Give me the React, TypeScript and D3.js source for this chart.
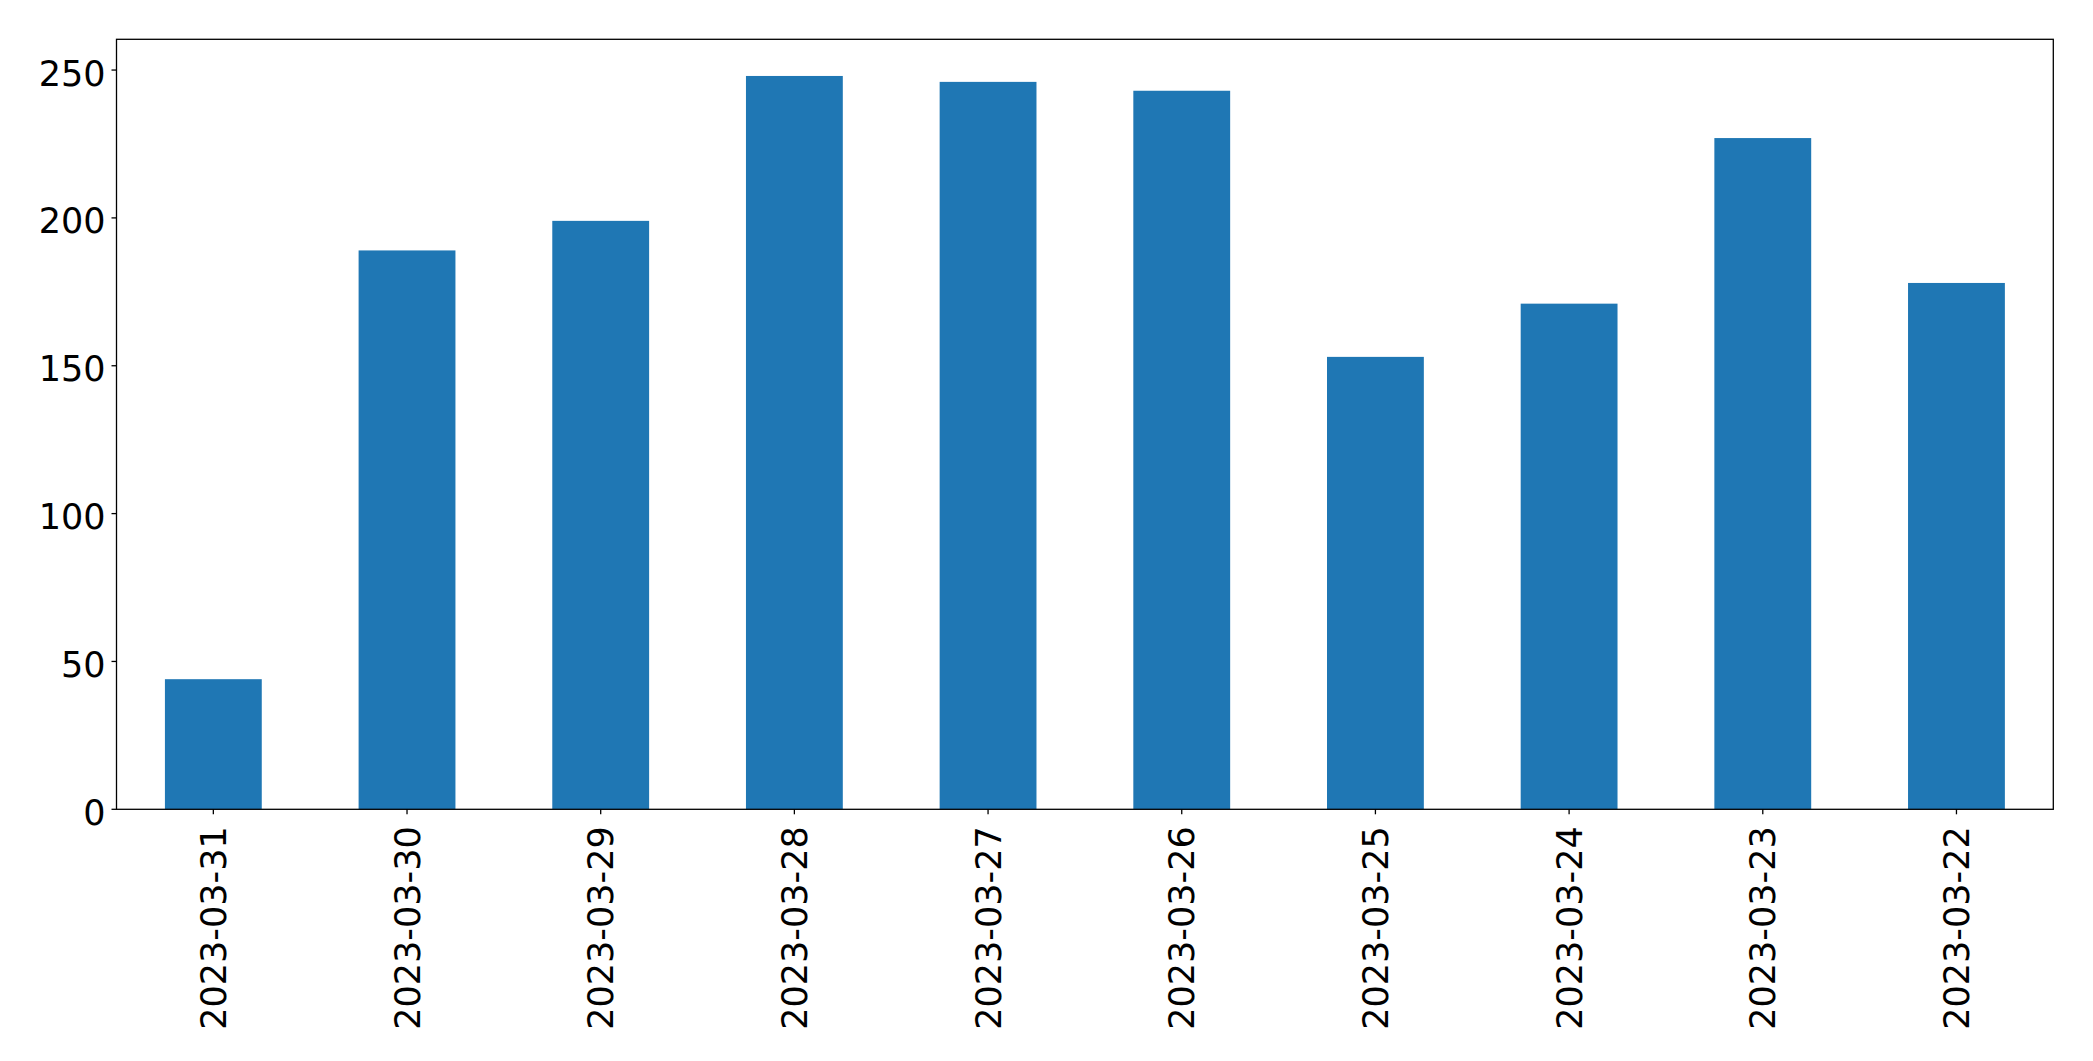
import React from "react";
import * as d3 from "d3";

const categories = [
  "2023-03-31",
  "2023-03-30",
  "2023-03-29",
  "2023-03-28",
  "2023-03-27",
  "2023-03-26",
  "2023-03-25",
  "2023-03-24",
  "2023-03-23",
  "2023-03-22",
];
const values = [44, 189, 199, 248, 246, 243, 153, 171, 227, 178];
const yTicks = [0, 50, 100, 150, 200, 250];

const W = 2093;
const H = 1061;
const M = { left: 116.5, right: 2053.3, top: 39.3, bottom: 809.3 };
const FONT = "'DejaVu Sans', sans-serif";
const FS = 35;

export default function App() {
  const x = d3
    .scaleBand<string>()
    .domain(categories)
    .range([M.left, M.right])
    .paddingInner(0.5)
    .paddingOuter(0.25);
  const yMax = d3.max(values)! * 1.05;
  const y = d3.scaleLinear().domain([0, yMax]).range([M.bottom, M.top]);
  const bw = x.bandwidth();

  return (
    <svg
      width={W}
      height={H}
      style={{ position: "absolute", left: 0, top: 0, display: "block", background: "#fff" }}
    >
      <rect x={0} y={0} width={W} height={H} fill="#fff" />
      {categories.map((c, i) => (
        <rect
          key={c}
          x={x(c)!}
          y={y(values[i])}
          width={bw}
          height={y(0) - y(values[i])}
          fill="#1f77b4"
        />
      ))}
      <rect
        x={M.left}
        y={M.top}
        width={M.right - M.left}
        height={M.bottom - M.top}
        fill="none"
        stroke="#000"
        strokeWidth={1.3}
      />
      {yTicks.map((t) => (
        <g key={t}>
          <line x1={M.left - 5} x2={M.left} y1={y(t)} y2={y(t)} stroke="#000" strokeWidth={1.3} />
          <text
            x={M.left - 11}
            y={y(t) + 15.5}
            textAnchor="end"
            fontFamily={FONT}
            fontSize={FS}
            fill="#000"
          >
            {t}
          </text>
        </g>
      ))}
      {categories.map((c) => {
        const cx = x(c)! + bw / 2;
        return (
          <g key={c}>
            <line x1={cx} x2={cx} y1={M.bottom} y2={M.bottom + 5} stroke="#000" strokeWidth={1.3} />
            <text
              transform={`translate(${cx},${M.bottom + 17}) rotate(-90)`}
              dy="0.36em"
              textAnchor="end"
              fontFamily={FONT}
              fontSize={FS}
              fill="#000"
            >
              {c}
            </text>
          </g>
        );
      })}
    </svg>
  );
}
